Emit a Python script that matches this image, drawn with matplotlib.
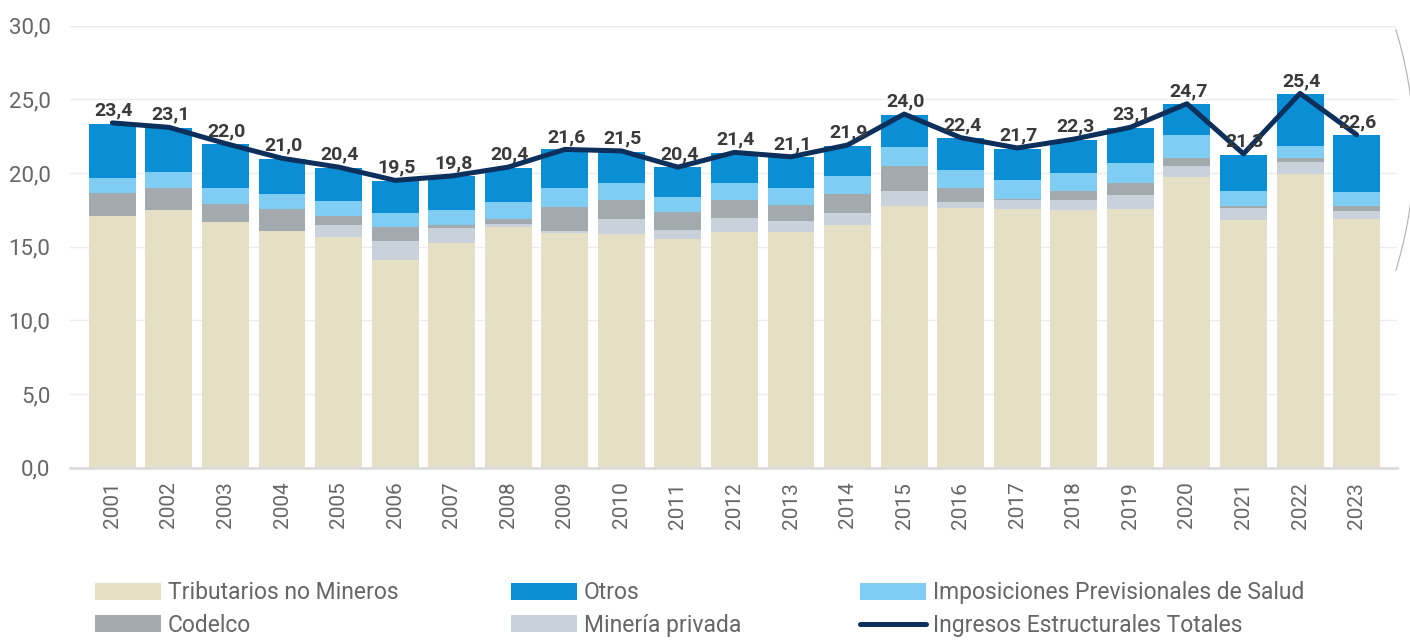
import matplotlib.pyplot as plt
import numpy as np
from matplotlib.lines import Line2D

plt.rcParams['font.family'] = ['Roboto', 'DejaVu Sans']

# datos (% del PIB)
years = [str(y) for y in range(2001, 2024)]
tributarios = [17.1, 17.5, 16.65, 16.1, 15.65, 14.1, 15.25, 16.35, 15.95, 15.85, 15.55, 16.0,
               16.0, 16.45, 17.75, 17.65, 17.55, 17.5, 17.55, 19.7, 16.8, 19.95, 16.9]
mineria_privada = [0.0, 0.0, 0.0, 0.0, 0.85, 1.3, 1.05, 0.2, 0.15, 1.0, 0.6, 0.95,
                   0.75, 0.85, 1.05, 0.35, 0.6, 0.65, 0.95, 0.8, 0.8, 0.8, 0.5]
codelco = [1.55, 1.5, 1.25, 1.45, 0.6, 0.95, 0.2, 0.35, 1.6, 1.3, 1.2, 1.25,
           1.05, 1.25, 1.7, 1.0, 0.1, 0.6, 0.8, 0.5, 0.15, 0.3, 0.35]
imposiciones = [1.0, 1.1, 1.1, 1.0, 1.0, 0.95, 1.0, 1.1, 1.25, 1.2, 1.05, 1.1,
                1.15, 1.25, 1.25, 1.2, 1.25, 1.25, 1.35, 1.55, 1.0, 0.8, 0.95]
otros = [3.7, 2.95, 2.95, 2.4, 2.25, 2.15, 2.3, 2.35, 2.65, 2.1, 2.0, 2.05,
         2.15, 2.05, 2.2, 2.15, 2.15, 2.25, 2.4, 2.1, 2.5, 3.5, 3.9]
total = [23.4, 23.1, 22.0, 21.0, 20.4, 19.5, 19.8, 20.4, 21.6, 21.5, 20.4, 21.4,
         21.1, 21.9, 24.0, 22.4, 21.7, 22.3, 23.1, 24.7, 21.3, 25.4, 22.6]

fig = plt.figure(figsize=(14.1, 6.4), dpi=100)
ax = fig.add_axes([0.0496, 0.269, 0.9414, 0.691])

x = np.arange(len(years))
w = 0.83
series = [
    ('Tributarios no Mineros', tributarios, '#e5dfc5'),
    ('Minería privada', mineria_privada, '#c9d2da'),
    ('Codelco', codelco, '#a3aaad'),
    ('Imposiciones Previsionales de Salud', imposiciones, '#80cdf3'),
    ('Otros', otros, '#0b8fd4'),
]
handles = {}
bottom = np.zeros(len(years))
for name, vals, col in series:
    handles[name] = ax.bar(x, vals, w, bottom=bottom, color=col, label=name, zorder=2)
    bottom += np.array(vals)

line, = ax.plot(x, total, color='#0c2f5c', lw=3.6, zorder=3,
                solid_capstyle='round', label='Ingresos Estructurales Totales')
handles['Ingresos Estructurales Totales'] = line
for xi, v in zip(x, total):
    ax.annotate(f'{v:.1f}'.replace('.', ','), (xi, v), xytext=(1, 2.5),
                textcoords='offset points', ha='center', va='bottom',
                fontsize=14, fontweight='bold', color='#3a3a3a', zorder=4)

ax.set_ylim(0, 30)
ax.set_xlim(-0.75, 22.72)
ax.set_yticks(np.arange(0, 31, 5))
ax.set_yticklabels([f'{v:.1f}'.replace('.', ',') for v in np.arange(0, 31, 5)],
                   fontsize=16, color='#666666')
ax.set_xticks(x)
ax.set_xticklabels(years, rotation=90, fontsize=15, color='#666666')
ax.tick_params(length=0, pad=10)
ax.tick_params(axis='y', pad=14)
ax.grid(axis='y', color='#ececec', lw=1, zorder=0)
for s in ['top', 'right', 'left']:
    ax.spines[s].set_visible(False)
ax.spines['bottom'].set_color('#d9d9d9')
ax.spines['bottom'].set_linewidth(1.8)

# leyenda en tres columnas separadas
cols = [(['Tributarios no Mineros', 'Codelco'], 95),
        (['Otros', 'Minería privada'], 511),
        (['Imposiciones Previsionales de Salud', 'Ingresos Estructurales Totales'], 860)]
for names, px in cols:
    fig.legend([handles[n] for n in names], names, loc='center left',
               bbox_to_anchor=(px / 1410, 1 - 609 / 640), frameon=False,
               fontsize=16.5, labelcolor='#666666',
               handlelength=2.9, handleheight=0.74, handletextpad=0.28,
               labelspacing=0.42, borderaxespad=0, borderpad=0)

# arco decorativo en el borde derecho
t = np.linspace(-0.3, 0.3, 100)
R, cx, cy = 407, 1414 - 407, 150
fig.add_artist(Line2D((cx + R * np.cos(t)) / 1410, 1 - (cy + R * np.sin(t)) / 640,
                      color='#b0b0b0', lw=0.8, transform=fig.transFigure))

fig.savefig('out.png', dpi=100)
